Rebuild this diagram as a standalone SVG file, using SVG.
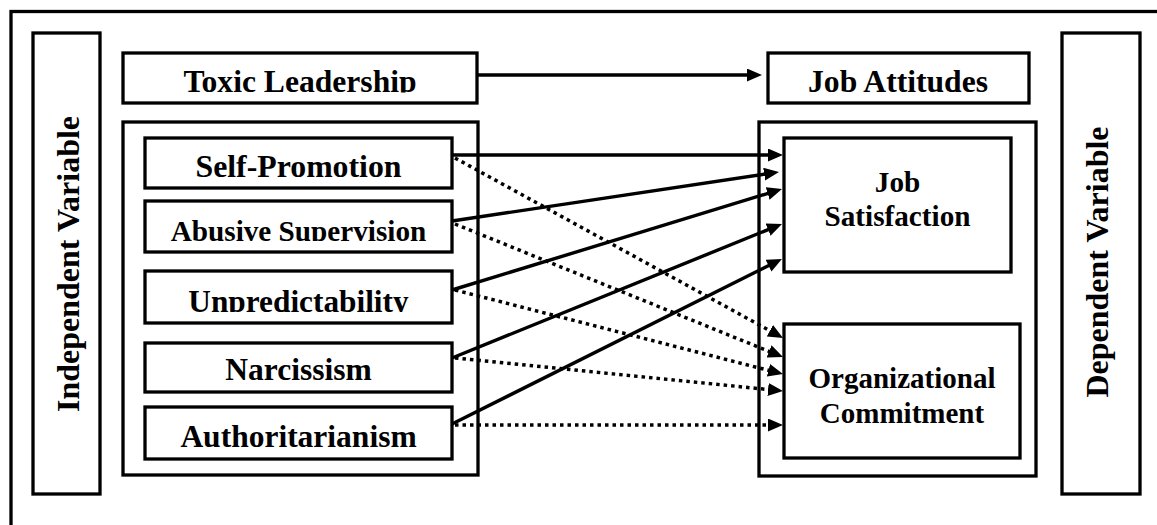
<svg xmlns="http://www.w3.org/2000/svg" width="1157" height="525" viewBox="0 0 1157 525">
<style>
.box{fill:#fff;stroke:#000;stroke-width:3.3}
.frame{fill:none;stroke:#000;stroke-width:3.3}
.t{font-family:"Liberation Serif","Times New Roman",serif;font-weight:bold;fill:#000;text-anchor:middle}
.solid{stroke:#000;stroke-width:3.4;fill:none;marker-end:url(#ah)}
.dot{stroke:#000;stroke-width:3.5;fill:none;stroke-dasharray:3.5 4;marker-end:url(#ah)}
</style>
<defs>
<marker id="ah" markerUnits="userSpaceOnUse" markerWidth="16" markerHeight="14" refX="8" refY="6.5" orient="auto">
<path d="M0,0 L15,6.5 L0,13 z" fill="#000"/>
</marker>
<clipPath id="c1"><rect x="120" y="50" width="360" height="42.5"/></clipPath>
<clipPath id="c2"><rect x="765" y="50" width="268" height="42.5"/></clipPath>
<clipPath id="c3"><rect x="140" y="135" width="315" height="42"/></clipPath>
<clipPath id="c4"><rect x="140" y="198" width="315" height="43"/></clipPath>
<clipPath id="c5"><rect x="140" y="268" width="315" height="44"/></clipPath>
</defs>
<rect x="0" y="0" width="1157" height="525" fill="#fff"/>
<rect class="frame" x="11" y="11.5" width="1170" height="540"/>

<g id="independent-variable">
<rect class="box" x="33" y="33" width="67" height="461"/>
<text class="t" font-size="32" transform="translate(79,264) rotate(-90)">Independent Variable</text>
</g>
<g id="dependent-variable">
<rect class="box" x="1062" y="33" width="78" height="461"/>
<text class="t" font-size="32" transform="translate(1108,262) rotate(-90)">Dependent Variable</text>
</g>

<g id="toxic-leadership">
<rect class="box" x="123" y="53" width="354" height="50"/>
<text class="t" font-size="31.6" x="300" y="92" clip-path="url(#c1)">Toxic Leadership</text>
</g>
<g id="job-attitudes">
<rect class="box" x="768" y="53" width="261" height="50"/>
<text class="t" font-size="31.6" x="898" y="92" clip-path="url(#c2)">Job Attitudes</text>
</g>

<g id="left-container">
<rect class="box" x="123" y="122" width="355" height="353"/>
</g>
<g id="right-container">
<rect class="box" x="759" y="122" width="277" height="354"/>
</g>

<g id="self-promotion">
<rect class="box" x="145" y="138" width="307" height="50"/>
<text class="t" font-size="31.8" x="298.5" y="177" clip-path="url(#c3)">Self-Promotion</text>
</g>
<g id="abusive-supervision">
<rect class="box" x="145" y="201" width="307" height="51"/>
<text class="t" font-size="29.2" x="298.5" y="240.5" clip-path="url(#c4)">Abusive Supervision</text>
</g>
<g id="unpredictability">
<rect class="box" x="145" y="271" width="307" height="52"/>
<text class="t" font-size="31.3" x="298.5" y="312" clip-path="url(#c5)">Unpredictability</text>
</g>
<g id="narcissism">
<rect class="box" x="145" y="343" width="307" height="49"/>
<text class="t" font-size="31.5" x="298.5" y="380">Narcissism</text>
</g>
<g id="authoritarianism">
<rect class="box" x="145" y="407" width="307" height="52"/>
<text class="t" font-size="31.5" x="298.5" y="446.5">Authoritarianism</text>
</g>

<g id="job-satisfaction">
<rect class="box" x="784" y="138" width="227" height="134"/>
<text class="t" font-size="29.2" x="897.5" y="192">Job</text>
<text class="t" font-size="29.2" x="897.5" y="226">Satisfaction</text>
</g>
<g id="organizational-commitment">
<rect class="box" x="784" y="324" width="236" height="134"/>
<text class="t" font-size="29" x="902" y="388">Organizational</text>
<text class="t" font-size="29" x="902" y="423">Commitment</text>
</g>

<g id="connectors">
<line class="solid" x1="478" y1="75" x2="755" y2="75"/>
<line class="solid" x1="452" y1="155" x2="776" y2="155"/>
<line class="solid" x1="452" y1="221" x2="772.1" y2="173"/>
<line class="solid" x1="452" y1="290" x2="775.3" y2="191.1"/>
<line class="solid" x1="452" y1="358" x2="775.5" y2="226.6"/>
<line class="solid" x1="452" y1="424" x2="775.7" y2="262.1"/>
<line class="dot" x1="455" y1="158" x2="776.9" y2="334.6"/>
<line class="dot" x1="455" y1="224" x2="776.5" y2="354.4"/>
<line class="dot" x1="455" y1="290" x2="776.2" y2="372.3"/>
<line class="dot" x1="455" y1="358" x2="776" y2="390.3"/>
<line class="dot" x1="455" y1="425" x2="776" y2="425"/>
</g>
</svg>
